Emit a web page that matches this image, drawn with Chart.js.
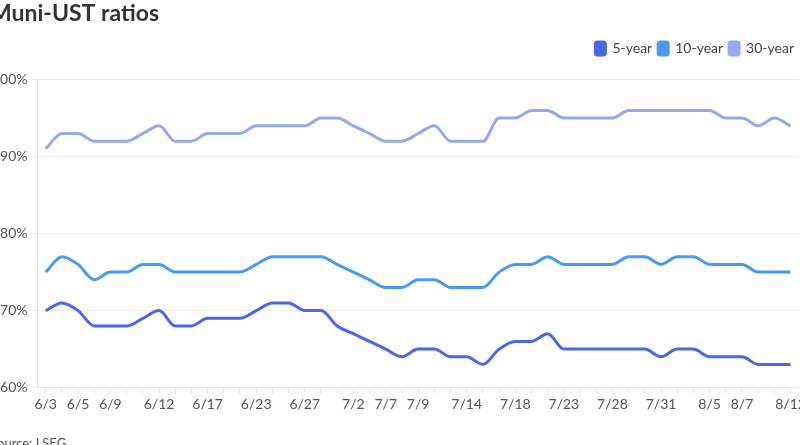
<!DOCTYPE html>
<html>
<head>
<meta charset="utf-8">
<script src="https://cdn.jsdelivr.net/npm/chart.js@4.4.1/dist/chart.umd.min.js"></script>
<style>
  html, body { margin: 0; padding: 0; background: #fff; overflow: hidden; }
  #wrap { position: absolute; left: -10px; top: 0; width: 818px; height: 452px; }
</style>
</head>
<body>
<div id="wrap"><canvas id="ratios"></canvas></div>
<script>
// trading days in the series
const dates = [
  '6/3','6/4','6/5','6/6','6/9','6/10','6/11','6/12','6/13','6/16','6/17','6/18','6/20',
  '6/23','6/24','6/26','6/27','6/30','7/1','7/2','7/3','7/7','7/8','7/9','7/10','7/11',
  '7/14','7/15','7/17','7/18','7/21','7/22','7/23','7/24','7/25','7/28','7/29','7/30','7/31',
  '8/1','8/4','8/5','8/6','8/7','8/8','8/11','8/12'
];
// labels actually printed under the axis
const shownTicks = ['6/3','6/5','6/9','6/12','6/17','6/23','6/27','7/2','7/7','7/9',
  '7/14','7/18','7/23','7/28','7/31','8/5','8/7','8/12'];

const fiveYear = [70,71,70,68,68,68,69,70,68,68,69,69,69,70,71,71,70,70,68,67,66,65,64,65,65,64,
  64,63,65,66,66,67,65,65,65,65,65,65,64,65,65,64,64,64,63,63,63];
const tenYear = [75,77,76,74,75,75,76,76,75,75,75,75,75,76,77,77,77,77,76,75,74,73,73,74,74,73,
  73,73,75,76,76,77,76,76,76,76,77,77,76,77,77,76,76,76,75,75,75];
const thirtyYear = [91,93,93,92,92,92,93,94,92,92,93,93,93,94,94,94,94,95,95,94,93,92,92,93,94,92,
  92,92,95,95,96,96,95,95,95,95,96,96,96,96,96,96,95,95,94,95,94];

const FONT = 'Lato';

// extra room under the legend
const legendGap = {
  id: 'legendGap',
  beforeInit(chart) {
    const fit = chart.legend.fit;
    chart.legend.fit = function() {
      fit.bind(chart.legend)();
      this.height += 14;
    };
  }
};

new Chart(document.getElementById('ratios'), {
  type: 'line',
  data: {
    labels: dates,
    datasets: [
      { label: '5-year', data: fiveYear, borderColor: '#4a67e6', backgroundColor: '#4a67e6' },
      { label: '10-year', data: tenYear, borderColor: '#4a9af0', backgroundColor: '#4a9af0' },
      { label: '30-year', data: thirtyYear, borderColor: '#94a9f4', backgroundColor: '#94a9f4' }
    ]
  },
  options: {
    responsive: true,
    maintainAspectRatio: false,
    animation: false,
    layout: { padding: { left: 0, right: 8, top: 0, bottom: 0 } },
    elements: {
      line: { borderWidth: 3, cubicInterpolationMode: 'monotone' },
      point: { radius: 0 }
    },
    plugins: {
      title: {
        display: true, text: 'Muni-UST ratios', align: 'start', color: '#333',
        font: { family: FONT, size: 23, weight: 'bold' }, padding: { top: 0, bottom: 8 }
      },
      subtitle: {
        display: true, text: 'Source: LSEG', position: 'bottom', align: 'start', color: '#555',
        font: { family: FONT, size: 13 }, padding: { top: 22, bottom: 0 }
      },
      legend: {
        align: 'end',
        labels: {
          boxWidth: 10, boxHeight: 13, useBorderRadius: true, borderRadius: 2,
          padding: 6, color: '#444', font: { family: FONT, size: 14 }
        }
      },
      tooltip: { enabled: false }
    },
    scales: {
      x: {
        offset: true,
        grid: { drawOnChartArea: false, drawTicks: true, tickLength: 6, color: '#e5e5e5', offset: false },
        border: { color: '#e5e5e5' },
        ticks: {
          autoSkip: false, maxRotation: 0, color: '#555', font: { family: FONT, size: 14 }, padding: 2,
          callback: function(v) { const l = this.getLabelForValue(v); return shownTicks.includes(l) ? l : ''; }
        }
      },
      y: {
        min: 60, max: 100,
        grid: { color: '#ececec', tickLength: 8 },
        border: { color: '#e5e5e5' },
        ticks: { stepSize: 10, color: '#555', font: { family: FONT, size: 14 }, padding: 2,
          callback: v => v + '%' }
      }
    }
  },
  plugins: [legendGap]
});
</script>
</body>
</html>
